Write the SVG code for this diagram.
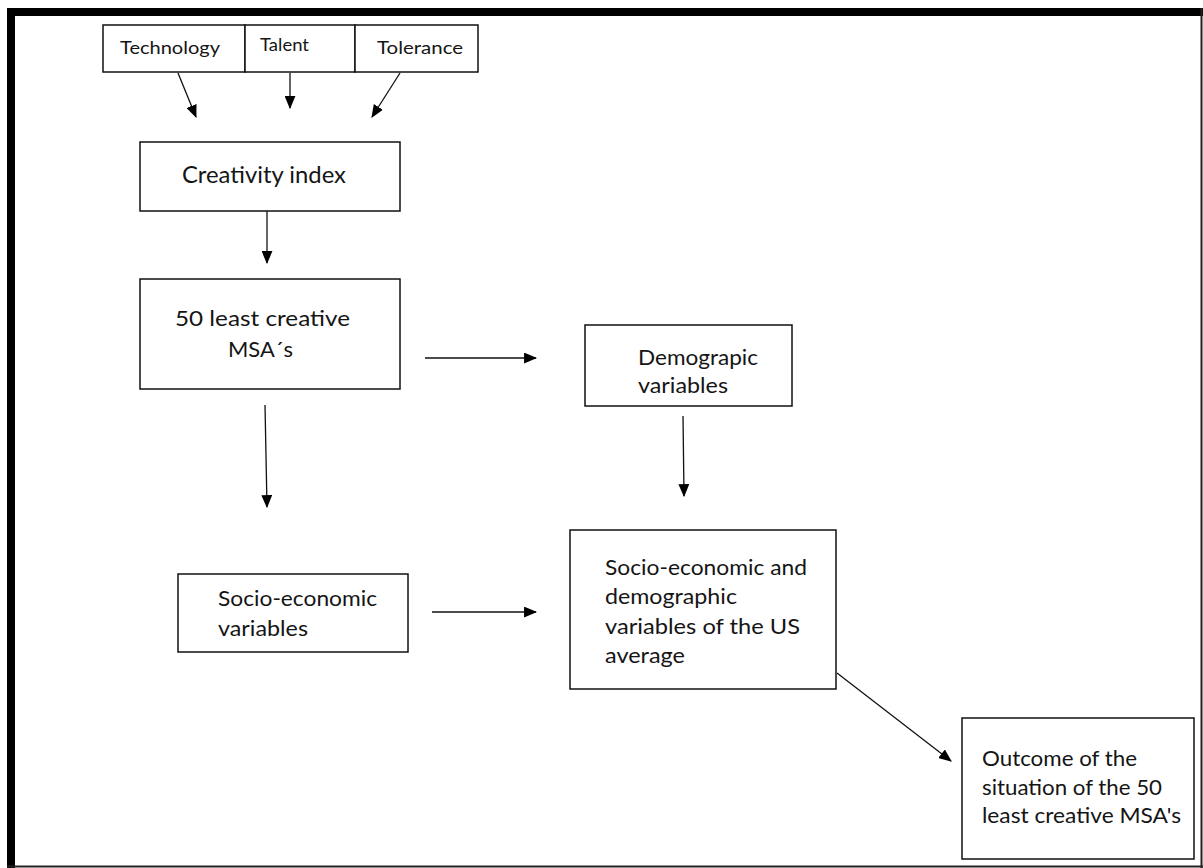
<svg xmlns="http://www.w3.org/2000/svg" width="1203" height="868" viewBox="0 0 1203 868">
<defs>
<marker id="ah" viewBox="0 0 12 10" refX="11" refY="5" markerWidth="13" markerHeight="11" markerUnits="userSpaceOnUse" orient="auto">
<path d="M0,0 L12,5 L0,10 Z" fill="#000"/>
</marker>
<style>
.box{fill:#fff;stroke:#111;stroke-width:1.5}
.t{font-family:Lato,"Open Sans","Liberation Sans",sans-serif;fill:#151515}
.s{font-size:17.5px}
.m{font-size:22px}
.c{stroke:#111;stroke-width:1.3;fill:none;marker-end:url(#ah)}
</style>
</defs>
<rect x="0" y="0" width="1203" height="868" fill="#fff"/>
<g id="frame">
<rect x="7" y="8" width="1196" height="8" fill="#000"/>
<rect x="7" y="8" width="8" height="860" fill="#000"/>
<line x1="1201.5" y1="8" x2="1201.5" y2="868" stroke="#222" stroke-width="2"/>
<line x1="7" y1="866.5" x2="1203" y2="866.5" stroke="#222" stroke-width="2"/>
</g>
<g id="technology">
<rect class="box" x="103" y="25" width="142" height="47"/>
<text class="t s" x="120" y="54" textLength="100" lengthAdjust="spacingAndGlyphs">Technology</text>
</g>
<g id="talent">
<rect class="box" x="245" y="25" width="110" height="47"/>
<text class="t s" x="260" y="51" textLength="49" lengthAdjust="spacingAndGlyphs">Talent</text>
</g>
<g id="tolerance">
<rect class="box" x="355" y="25" width="123" height="47"/>
<text class="t s" x="377" y="54" textLength="86" lengthAdjust="spacingAndGlyphs">Tolerance</text>
</g>
<g id="creativity-index">
<rect class="box" x="140" y="142" width="260" height="69"/>
<text class="t" font-size="23" x="182" y="183" textLength="164" lengthAdjust="spacingAndGlyphs">Creativity index</text>
</g>
<g id="least-creative">
<rect class="box" x="140" y="279" width="260" height="110"/>
<text class="t m" x="175" y="326" textLength="175" lengthAdjust="spacingAndGlyphs">50 least creative</text>
<text class="t m" x="228" y="357" textLength="65" lengthAdjust="spacingAndGlyphs">MSA´s</text>
</g>
<g id="demographic">
<rect class="box" x="585" y="325" width="207" height="81"/>
<text class="t m" x="638" y="365" textLength="120" lengthAdjust="spacingAndGlyphs">Demograpic</text>
<text class="t m" x="638" y="393" textLength="90" lengthAdjust="spacingAndGlyphs">variables</text>
</g>
<g id="socio-economic">
<rect class="box" x="178" y="574" width="230" height="78"/>
<text class="t m" x="218" y="606" textLength="159" lengthAdjust="spacingAndGlyphs">Socio-economic</text>
<text class="t m" x="218" y="636" textLength="90" lengthAdjust="spacingAndGlyphs">variables</text>
</g>
<g id="us-average">
<rect class="box" x="570" y="530" width="266" height="159"/>
<text class="t m" x="605" y="575" textLength="202" lengthAdjust="spacingAndGlyphs">Socio-economic and</text>
<text class="t m" x="605" y="604" textLength="132" lengthAdjust="spacingAndGlyphs">demographic</text>
<text class="t m" x="605" y="634" textLength="195" lengthAdjust="spacingAndGlyphs">variables of the US</text>
<text class="t m" x="605" y="663" textLength="80" lengthAdjust="spacingAndGlyphs">average</text>
</g>
<g id="outcome">
<rect class="box" x="962" y="718" width="232" height="141"/>
<text class="t m" x="982" y="766" textLength="155" lengthAdjust="spacingAndGlyphs">Outcome of the</text>
<text class="t m" x="982" y="795" textLength="180" lengthAdjust="spacingAndGlyphs">situation of the 50</text>
<text class="t m" x="982" y="823" textLength="199" lengthAdjust="spacingAndGlyphs">least creative MSA's</text>
</g>
<g id="connectors">
<line class="c" x1="178" y1="73" x2="196" y2="117"/>
<line class="c" x1="290" y1="73" x2="290" y2="108"/>
<line class="c" x1="400" y1="73" x2="372" y2="117"/>
<line class="c" x1="267" y1="211" x2="267" y2="263"/>
<line class="c" x1="425" y1="358" x2="536" y2="358"/>
<line class="c" x1="683" y1="416" x2="684" y2="496"/>
<line class="c" x1="265" y1="405" x2="267" y2="507"/>
<line class="c" x1="432" y1="612" x2="536" y2="612"/>
<line class="c" x1="837" y1="673" x2="951" y2="761"/>
</g>
</svg>
